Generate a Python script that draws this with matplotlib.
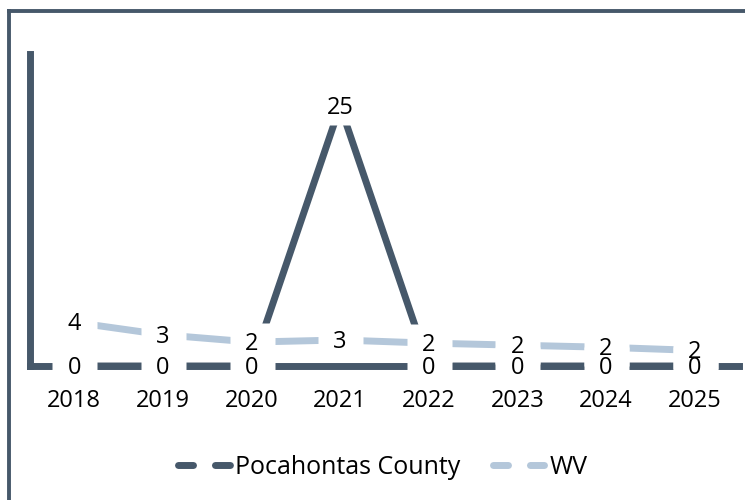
import matplotlib
matplotlib.use("Agg")
import matplotlib.pyplot as plt
from matplotlib.lines import Line2D
from matplotlib.path import Path
import numpy as np

years = ["2018", "2019", "2020", "2021", "2022", "2023", "2024", "2025"]
pocahontas = [0, 0, 0, 25, 0, 0, 0, 0]
wv = [4.2, 3.0, 2.3, 2.5, 2.2, 2.0, 1.8, 1.5]
series_names = ["Pocahontas County", "WV"]

dark = "#46586a"
light = "#b4c7da"

plt.rcParams["font.family"] = ["Open Sans", "DejaVu Sans"]
plt.rcParams["lines.scale_dashes"] = False
fs = 17


def fmt(v):
    # excel style: round half up, no decimals
    return str(int(np.floor(v + 0.5)))


fig = plt.figure(figsize=(7.45, 5), dpi=100)
ax = fig.add_axes([30 / 745, 1 - 366 / 500, 709 / 745, 312 / 500])

x = np.arange(len(years))
ax.plot(x, pocahontas, color=dark, lw=5, zorder=2, solid_joinstyle="round")
ax.plot(x, wv, color=light, lw=5, zorder=2, solid_joinstyle="round")

# white boxes behind the data labels (they cut the lines like in the original)
box = Path([(-0.5, -0.43), (0.5, -0.43), (0.5, 0.43), (-0.5, 0.43), (-0.5, -0.43)],
           [Path.MOVETO, Path.LINETO, Path.LINETO, Path.LINETO, Path.CLOSEPOLY])
for vals in (pocahontas, wv):
    ax.plot(x, vals, linestyle="none", marker=box, ms=32.4, mfc="white",
            mec="none", zorder=4, clip_on=False)
    for xi, v in zip(x, vals):
        ax.annotate(fmt(v), (xi, v), xytext=(0, -1.5), textcoords="offset points",
                    ha="center", va="center", fontsize=fs, color="black", zorder=5)

ax.set_xlim(-0.5, len(years) - 0.5)
ax.set_ylim(0, 30)
ax.set_xticks(x)
ax.set_xticklabels(years, fontsize=fs)
ax.set_yticks([])
ax.tick_params(axis="x", length=0, pad=16.5)
for s in ("top", "right"):
    ax.spines[s].set_visible(False)
for s in ("left", "bottom"):
    ax.spines[s].set_color(dark)
    ax.spines[s].set_linewidth(5)
    ax.spines[s].set_capstyle("projecting")
    ax.spines[s].set_zorder(1.5)

# legend
handles = [
    Line2D([], [], color=dark, lw=5, dashes=(10.8, 15.8), dash_capstyle="round"),
    Line2D([], [], color=light, lw=5, dashes=(10.8, 15.8), dash_capstyle="round"),
]
fig.legend(handles, series_names, loc="center", bbox_to_anchor=(0.514, 0.066),
           ncol=2, frameon=False, fontsize=18, handlelength=2.05,
           handletextpad=0.22, columnspacing=1.3, borderpad=0)

# outer frame
fig.add_artist(Line2D([9 / 745, 1.02], [1 - 11 / 500] * 2, transform=fig.transFigure,
                      color=dark, lw=2.8, solid_capstyle="projecting"))
fig.add_artist(Line2D([9 / 745] * 2, [1 - 11 / 500, -0.02], transform=fig.transFigure,
                      color=dark, lw=2.8, solid_capstyle="projecting"))

fig.savefig("out.png", dpi=100)
